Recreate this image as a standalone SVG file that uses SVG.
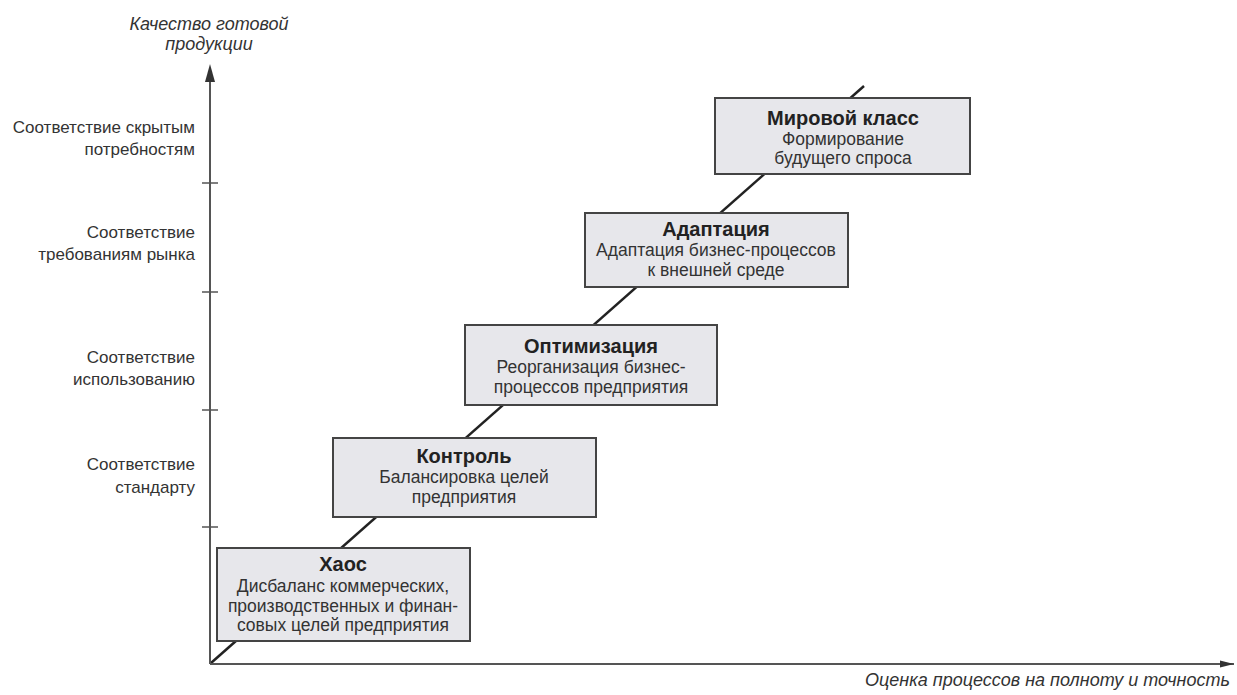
<svg xmlns="http://www.w3.org/2000/svg" width="1237" height="695" viewBox="0 0 1237 695">
  <defs>
    <marker id="arrowHead" viewBox="0 0 16 8" refX="16" refY="4" markerWidth="14" markerHeight="8" markerUnits="userSpaceOnUse" orient="auto">
      <path d="M0,0 L16,4 L0,8 Z" fill="#333"/>
    </marker>
  </defs>
  <style>
    .axis { stroke: #555; stroke-width: 2; fill: none; }
    .tick { stroke: #555; stroke-width: 1.5; }
    .trend { stroke: #222; stroke-width: 2.5; fill: none; }
    .box { fill: #e7e7eb; stroke: #444; stroke-width: 2; }
    .title { font-family: "Liberation Sans", Arial, sans-serif; font-weight: bold; font-size: 20px; fill: #222; text-anchor: middle; }
    .body { font-family: "Liberation Sans", Arial, sans-serif; font-size: 17.5px; fill: #333; text-anchor: middle; }
    .level { font-family: "Liberation Sans", Arial, sans-serif; font-size: 17px; fill: #333; text-anchor: end; }
    .axlabel { font-family: "Liberation Sans", Arial, sans-serif; font-style: italic; font-size: 18px; fill: #333; }
  </style>
  <rect width="1237" height="695" fill="#ffffff"/>

  <g id="connectors">
    <!-- maturity trend line (drawn under the boxes) -->
    <line class="trend" x1="211" y1="663" x2="864" y2="86"/>
    <!-- axes -->
    <line class="axis" x1="210" y1="664" x2="210" y2="70"/>
    <path d="M205,82 L210,64 L215,82 Z" fill="#333"/>
    <line class="axis" x1="210" y1="664" x2="1234" y2="664" marker-end="url(#arrowHead)"/>
    <!-- ticks -->
    <line class="tick" x1="202" y1="183" x2="218" y2="183"/>
    <line class="tick" x1="202" y1="292" x2="218" y2="292"/>
    <line class="tick" x1="202" y1="410" x2="218" y2="410"/>
    <line class="tick" x1="202" y1="527" x2="218" y2="527"/>
  </g>

  <g id="axis-labels">
    <text class="axlabel" x="209" y="30" text-anchor="middle" font-size="19">Качество готовой</text>
    <text class="axlabel" x="209" y="50" text-anchor="middle" font-size="19">продукции</text>
    <text class="axlabel" x="1230" y="686" text-anchor="end">Оценка процессов на полноту и точность</text>
  </g>

  <g id="levels">
    <text class="level" x="195" y="133">Соответствие скрытым</text>
    <text class="level" x="195" y="155">потребностям</text>
    <text class="level" x="195" y="238">Соответствие</text>
    <text class="level" x="195" y="260">требованиям рынка</text>
    <text class="level" x="195" y="363">Соответствие</text>
    <text class="level" x="195" y="385">использованию</text>
    <text class="level" x="195" y="470">Соответствие</text>
    <text class="level" x="195" y="493">стандарту</text>
  </g>

  <g id="node-chaos">
    <rect class="box" x="217" y="548" width="253" height="93"/>
    <text class="title" x="343" y="571">Хаос</text>
    <text class="body" x="343" y="592">Дисбаланс коммерческих,</text>
    <text class="body" x="343" y="612">производственных и финан-</text>
    <text class="body" x="343" y="631">совых целей предприятия</text>
  </g>

  <g id="node-control">
    <rect class="box" x="333" y="438" width="263" height="79"/>
    <text class="title" x="464" y="463">Контроль</text>
    <text class="body" x="464" y="483">Балансировка целей</text>
    <text class="body" x="464" y="503">предприятия</text>
  </g>

  <g id="node-optimization">
    <rect class="box" x="465" y="325" width="252" height="80"/>
    <text class="title" x="591" y="353">Оптимизация</text>
    <text class="body" x="591" y="373">Реорганизация бизнес-</text>
    <text class="body" x="591" y="393">процессов предприятия</text>
  </g>

  <g id="node-adaptation">
    <rect class="box" x="585" y="213" width="263" height="74"/>
    <text class="title" x="716" y="236">Адаптация</text>
    <text class="body" x="716" y="256">Адаптация бизнес-процессов</text>
    <text class="body" x="716" y="276">к внешней среде</text>
  </g>

  <g id="node-world-class">
    <rect class="box" x="715" y="98" width="255" height="76"/>
    <text class="title" x="843" y="125">Мировой класс</text>
    <text class="body" x="843" y="145">Формирование</text>
    <text class="body" x="843" y="164">будущего спроса</text>
  </g>
</svg>
